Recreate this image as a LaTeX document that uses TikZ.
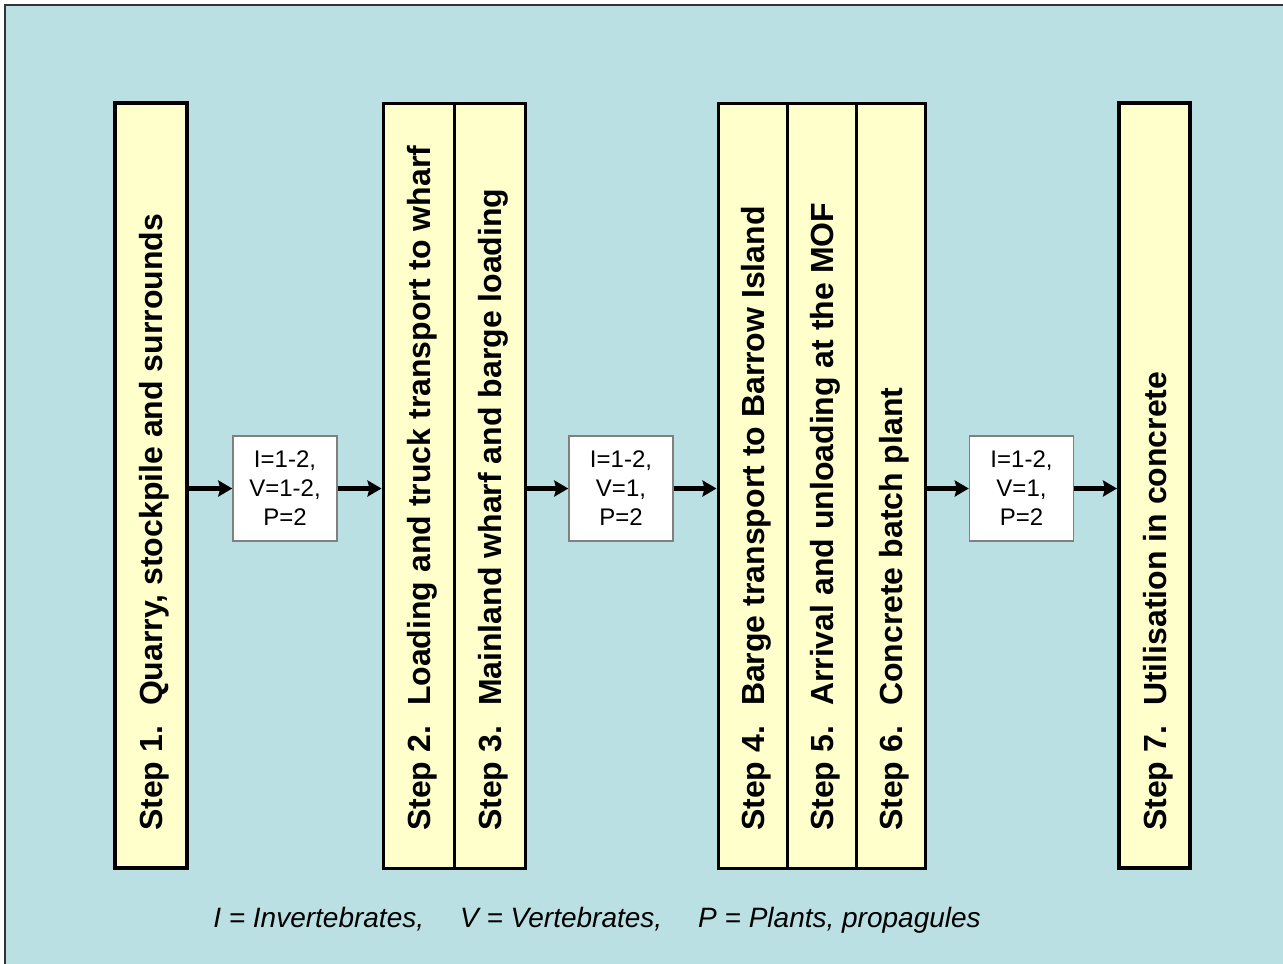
\documentclass[tikz,border=0pt]{standalone}
\usepackage{fontspec}
\setmainfont{Liberation Sans}
\usetikzlibrary{arrows.meta}
\definecolor{bgblue}{HTML}{BBE0E3}
\definecolor{stepfill}{HTML}{FFFFCC}
\definecolor{framegray}{HTML}{333333}
\definecolor{tagedge}{HTML}{808080}

\begin{document}
\begin{tikzpicture}[x=1pt,y=-1pt,
  column/.style={draw=black, fill=stepfill, line width=#1,
    minimum height=765pt, inner sep=0pt},
  steplabel/.style={rotate=90, anchor=base west, inner sep=0pt,
    font=\fontsize{32}{38}\selectfont\bfseries},
  tag/.style={draw=tagedge, fill=white, line width=1.5pt,
    minimum width=104pt, minimum height=105pt, inner sep=0pt,
    align=center, font=\fontsize{24}{29}\selectfont},
  flow/.style={-{Stealth[length=14pt,width=16pt,inset=2pt]}, line width=4.5pt},
  keytext/.style={anchor=base, inner sep=0pt,
    font=\fontsize{28}{34}\selectfont\itshape}
]
\useasboundingbox (0,0) rectangle (1283,964);

% panel with its top and left frame lines
\fill[white] (0,0) rectangle (1283,964);
\fill[bgblue] (5,5) rectangle (1283,964);
\draw[framegray, line width=2pt] (5,964) -- (5,5) -- (1283,5);

% step columns
\node[column=4pt, minimum width=72pt] (c1) at (151,485.5) {};
\node[column=3pt, minimum width=71pt] (c2) at (418.5,486) {};
\node[column=3pt, minimum width=71pt] (c3) at (489.5,486) {};
\node[column=3pt, minimum width=69pt] (c4) at (752.5,486) {};
\node[column=3pt, minimum width=69pt] (c5) at (821.5,486) {};
\node[column=3pt, minimum width=69pt] (c6) at (890.5,486) {};
\node[column=4pt, minimum width=71pt] (c7) at (1154.5,485.5) {};

% step labels, reading upwards
\node[steplabel] (t1) at ([xshift=11.5pt,yshift=39pt]c1.south) {Step 1.\hspace{20pt}Quarry, stockpile and surrounds};
\node[steplabel] (t2) at ([xshift=11.5pt,yshift=39pt]c2.south) {Step 2.\hspace{20pt}Loading and truck transport to wharf};
\node[steplabel] (t3) at ([xshift=11.5pt,yshift=39pt]c3.south) {Step 3.\hspace{20pt}Mainland wharf and barge loading};
\node[steplabel] (t4) at ([xshift=11.5pt,yshift=39pt]c4.south) {Step 4.\hspace{20pt}Barge transport to Barrow Island};
\node[steplabel] (t5) at ([xshift=11.5pt,yshift=39pt]c5.south) {Step 5.\hspace{20pt}Arrival and unloading at the MOF};
\node[steplabel] (t6) at ([xshift=11.5pt,yshift=39pt]c6.south) {Step 6.\hspace{20pt}Concrete batch plant};
\node[steplabel] (t7) at ([xshift=11.5pt,yshift=39pt]c7.south) {Step 7.\hspace{20pt}Utilisation in concrete};

% risk tags between the stages
\node[tag] (b1) at (285,488.5) {I=1-2,\\V=1-2,\\P=2};
\node[tag] (b2) at (621,488.5) {I=1-2,\\V=1,\\P=2};
\node[tag] (b3) at (1021.5,488.5) {I=1-2,\\V=1,\\P=2};

% flow arrows
\draw[flow] (b1.west -| c1.east) -- (b1.west);
\draw[flow] (b1.east) -- (b1.east -| c2.west);
\draw[flow] (b2.west -| c3.east) -- (b2.west);
\draw[flow] (b2.east) -- (b2.east -| c4.west);
\draw[flow] (b3.west -| c6.east) -- (b3.west);
\draw[flow] (b3.east) -- (b3.east -| c7.west);

% key
\node[keytext] (key) at (597,927) {I = Invertebrates,\hspace{36pt}V = Vertebrates,\hspace{36pt}P = Plants, propagules};
\end{tikzpicture}
\end{document}
